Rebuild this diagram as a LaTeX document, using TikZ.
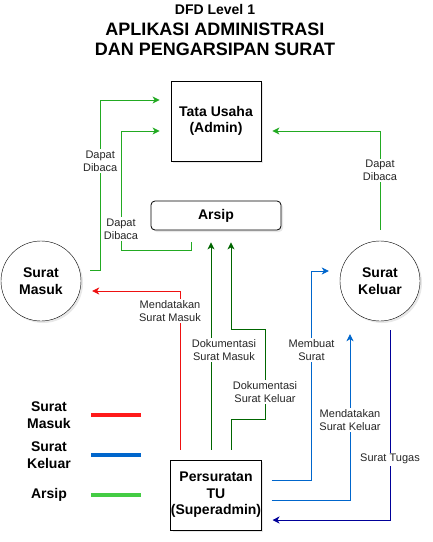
\documentclass[tikz,border=0pt]{standalone}
\usepackage{fontspec}
\setmainfont{Liberation Sans}
\usetikzlibrary{arrows.meta,calc,shadows,positioning}

\definecolor{hijau}{HTML}{22AA22}
\definecolor{hijautua}{HTML}{006600}
\definecolor{merah}{HTML}{EE1111}
\definecolor{biru}{HTML}{0066CC}
\definecolor{birutua}{HTML}{000099}
\definecolor{legmerah}{HTML}{FF1A1A}
\definecolor{leghijau}{HTML}{44CC44}

\begin{document}
\begin{tikzpicture}[x=1pt,y=-1pt,
    every node/.style={font=\fontsize{14}{16.5}\selectfont\bfseries, align=center},
    bayang/.style={drop shadow={opacity=0.18, shadow xshift=2pt, shadow yshift=-2pt}},
    entitas/.style={draw, circle, minimum size=80pt, inner sep=0pt, fill=white, bayang},
    proses/.style={draw=black, line width=0.8pt, rectangle, fill=white, inner sep=0pt, bayang},
    ket/.style={font=\fontsize{11}{13}\selectfont, fill=white, inner sep=1.5pt, text=black!85},
    panah/.style={line width=0.9pt, -{Stealth[length=7pt,width=7pt,inset=2pt]}},
    garisket/.style={line width=4.5pt}
]
\useasboundingbox (0,0) rectangle (433,542);

\node[font=\fontsize{14}{16}\selectfont\bfseries] (judul) at (215,9.5) {DFD Level 1};
\node[font=\fontsize{18}{20}\selectfont\bfseries] (judulutama) at (215,39) {APLIKASI ADMINISTRASI\\DAN PENGARSIPAN SURAT};

\node[proses, minimum width=90pt, minimum height=80pt] (tu) at (216,121) {Tata Usaha\\(Admin)};
\node[proses, rounded corners=4pt, minimum width=130pt, minimum height=29pt] (arsip) at (216,215.5) {Arsip};
\node[entitas] (sm) at (41,281) {Surat\\Masuk};
\node[entitas] (sk) at (380,281) {Surat\\Keluar};
\node[proses, minimum width=90pt, minimum height=70pt] (ptu) at (216,495) {Persuratan\\TU\\(Superadmin)};

\node (lsm) at (49,415) {Surat\\Masuk};
\node (lsk) at (49,455) {Surat\\Keluar};
\node (lar) at (49,495) {Arsip};

% legenda
\draw[garisket, legmerah] ($(lsm)+(42,0)$) -- ++(50,0);
\draw[garisket, biru] ($(lsk)+(42,0)$) -- ++(50,0);
\draw[garisket, leghijau] ($(lar)+(42,0)$) -- ++(50,0);

% alur dibaca
\draw[panah, hijau] ($(sm.east)+(9,-11)$) -- ++(10,0) |- node[ket, pos=0.32]{Dapat\\Dibaca} ($(tu.west)+(-11,-21)$);
\draw[panah, hijau] ($(arsip.south)+(-25,12)$) |- ++(-70,8) |- node[ket, pos=0.09]{Dapat\\Dibaca} ($(tu.west)+(-11,10)$);
\draw[panah, hijau] ($(sk.north)+(0,-11)$) |- node[ket, pos=0.3]{Dapat\\Dibaca} ($(tu.east)+(11,10)$);

% alur persuratan
\draw[panah, merah] ($(ptu.north)+(-36,-10)$) |- node[ket, pos=0.437, xshift=-10pt]{Mendatakan\\Surat Masuk} ($(sm.east)+(11,10)$);
\draw[panah, hijautua] ($(ptu.north)+(-5,-10)$) -- node[ket, pos=0.48, xshift=13pt]{Dokumentasi\\Surat Masuk} ($(arsip.south)+(-5,12)$);
\draw[panah, hijautua] ($(ptu.north)+(15,-10)$) -- ++(0,-30) -- ++(34,0) -- node[ket, pos=0.31]{Dokumentasi\\Surat Keluar} ++(0,-90) -- ++(-34,0) -- ($(arsip.south)+(15,12)$);
\draw[panah, biru] ($(ptu.east)+(10,-15)$) -- ++(40,0) |- node[ket, pos=0.31]{Membuat\\Surat} ($(sk.west)+(-11,-10)$);
\draw[panah, biru] ($(ptu.east)+(10,5)$) -| node[ket, pos=0.74]{Mendatakan\\Surat Keluar} ($(sk.south)+(-30,13)$);
\draw[panah, birutua] ($(sk.south)+(10,9)$) |- node[ket, pos=0.34]{Surat Tugas} ($(ptu.east)+(11,25)$);
\end{tikzpicture}
\end{document}
